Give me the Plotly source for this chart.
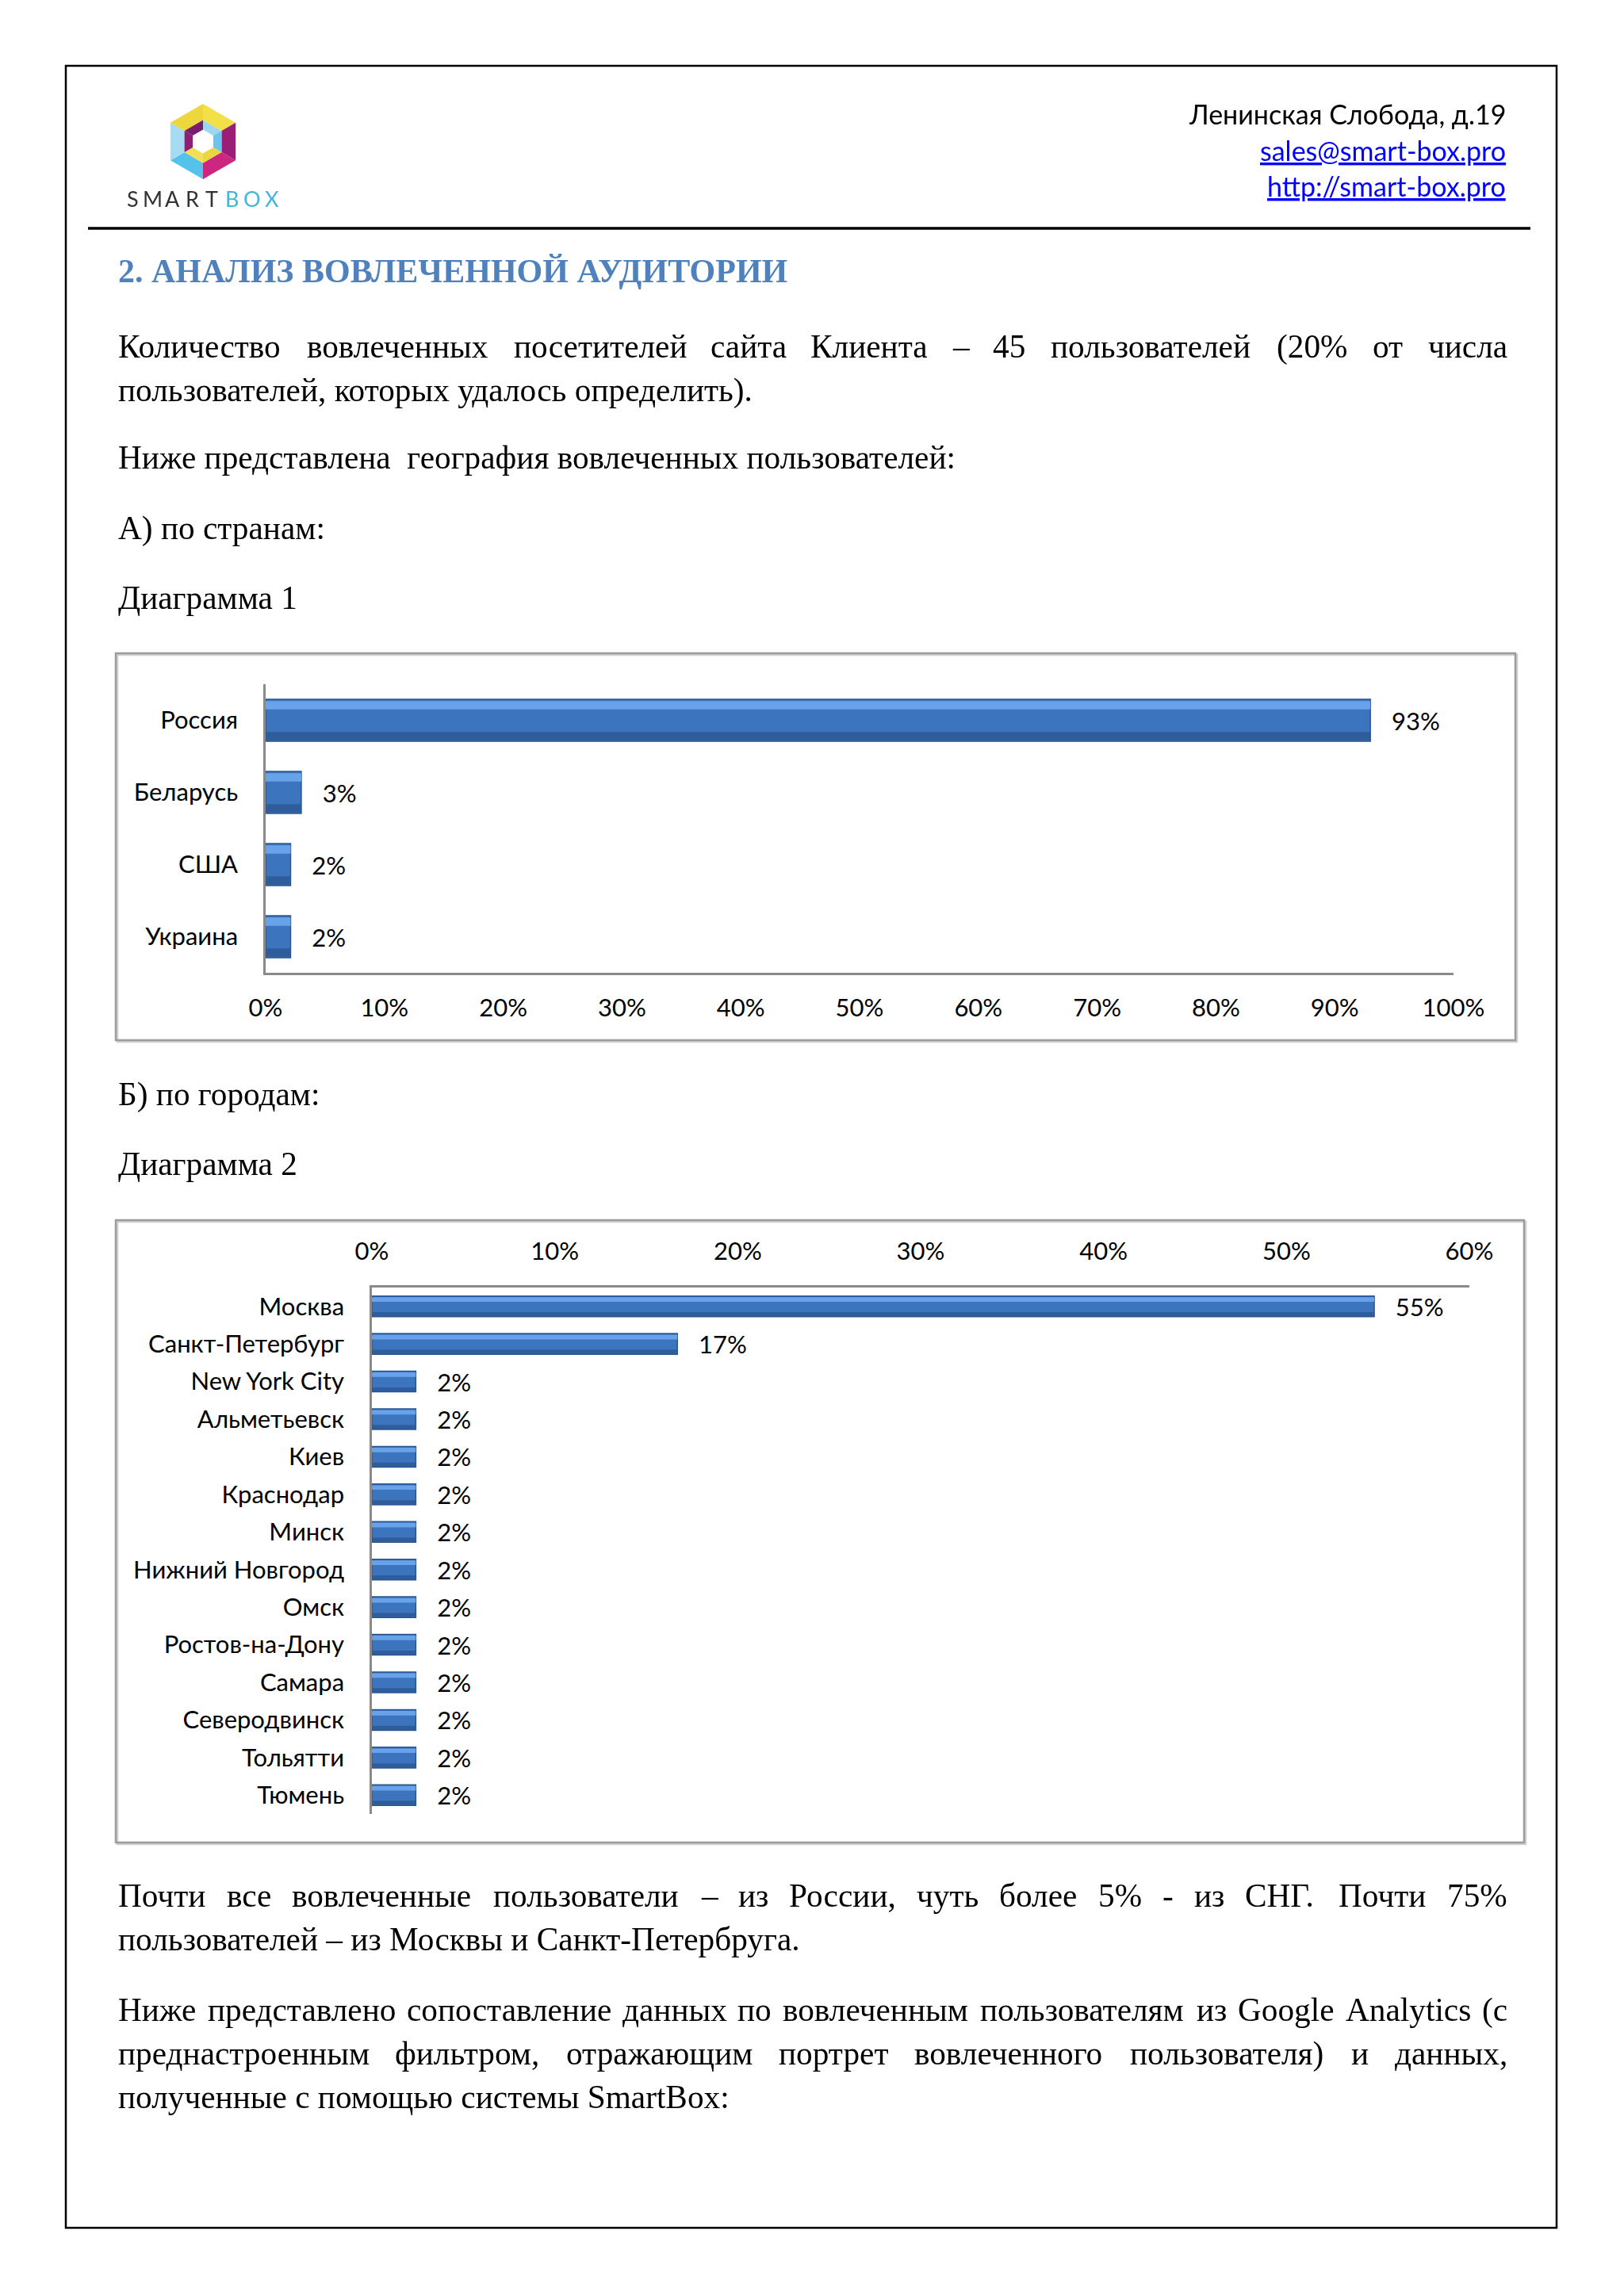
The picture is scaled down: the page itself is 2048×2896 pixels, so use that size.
import glob
import math
import struct

import plotly.graph_objects as go

W, H = 2048, 2896

# ---------------- data ----------------
countries = ["Россия", "Беларусь", "США", "Украина"]
country_share = [93.0, 3.0, 2.1, 2.1]
x1_ticks = [0, 10, 20, 30, 40, 50, 60, 70, 80, 90, 100]
x1_labels = ["0%", "10%", "20%", "30%", "40%", "50%", "60%", "70%", "80%", "90%", "100%"]

cities = ["Москва", "Санкт-Петербург", "New York City", "Альметьевск", "Киев", "Краснодар",
          "Минск", "Нижний Новгород", "Омск", "Ростов-на-Дону", "Самара", "Северодвинск",
          "Тольятти", "Тюмень"]
city_share = [54.8, 16.7, 2.4, 2.4, 2.4, 2.4, 2.4, 2.4, 2.4, 2.4, 2.4, 2.4, 2.4, 2.4]
x2_ticks = [0, 10, 20, 30, 40, 50, 60]
x2_labels = ["0%", "10%", "20%", "30%", "40%", "50%", "60%"]

# ---------------- helpers ----------------
OFF = 8  # page body margin of the html page


def px(x):
    return (x - OFF) / W


def py(y):
    return 1 - (y - OFF) / H


SERIF = "Liberation Serif, Times New Roman, serif"
SANS = "Lato, Carlito, Calibri, sans-serif"
BODY = 41.3
CH_FONT = 31
BAR = "#3D74BE"
BAR_LINE = "#2A5590"
BAR_HI = "#6EA8EC"
BAR_DK = "#2E5B97"
AXC = "#8A8A8A"
LEFT, RIGHT = 148, 1900

annotations = []
shapes = []


# ---- tiny TrueType width reader (used only to justify text lines) ----
def load_metrics():
    paths = (glob.glob("/usr/share/fonts/**/LiberationSerif-Regular.ttf", recursive=True)
             + glob.glob("/usr/**/LiberationSerif-Regular.ttf", recursive=True))
    if not paths:
        return None
    data = open(paths[0], "rb").read()
    u16 = lambda o: struct.unpack(">H", data[o:o + 2])[0]
    i16 = lambda o: struct.unpack(">h", data[o:o + 2])[0]
    ntab = u16(4)
    tables = {}
    for i in range(ntab):
        tag, _, off, ln = struct.unpack(">4sIII", data[12 + 16 * i:28 + 16 * i])
        tables[tag.decode("latin1")] = off
    upem = u16(tables["head"] + 18)
    nh = u16(tables["hhea"] + 34)
    hm = tables["hmtx"]
    adv = [u16(hm + 4 * i) for i in range(nh)]
    cm = tables["cmap"]
    sub = None
    for i in range(u16(cm + 2)):
        pid, eid, off = struct.unpack(">HHI", data[cm + 4 + 8 * i:cm + 12 + 8 * i])
        if u16(cm + off) == 4 and (pid == 3 or pid == 0):
            sub = cm + off
            break
    if sub is None:
        return None
    segx2 = u16(sub + 6)
    ends = sub + 14
    starts = ends + segx2 + 2
    deltas = starts + segx2
    ros = deltas + segx2

    def glyph(c):
        c = ord(c)
        for i in range(segx2 // 2):
            e = u16(ends + 2 * i)
            if c <= e:
                s = u16(starts + 2 * i)
                if c < s:
                    return 0
                d = i16(deltas + 2 * i)
                ro = u16(ros + 2 * i)
                if ro == 0:
                    return (c + d) & 0xFFFF
                g = u16(ros + 2 * i + ro + 2 * (c - s))
                return (g + d) & 0xFFFF if g else 0
        return 0

    def width(s, size):
        tot = 0
        for ch in s:
            g = glyph(ch)
            tot += adv[min(g, nh - 1)]
        return tot * size / upem

    return width


try:
    text_width = load_metrics()
except Exception:
    text_width = None


def txt(x, baseline, s, size=BODY, family=SERIF, color="black", anchor="left",
        bold=False, under=False, k=0.3375):
    font = dict(family=family, size=size, color=color)
    if bold:
        font["weight"] = "bold"
    if under:
        font["lineposition"] = "under"
    annotations.append(dict(
        x=px(x), y=py(baseline - k * size), xref="paper", yref="paper",
        text=s, showarrow=False, xanchor=anchor, yanchor="middle",
        font=font, borderpad=0))


def justified(baseline, line, fallback):
    ws = line.split(" ")
    if text_width is not None:
        widths = [text_width(w, BODY) for w in ws]
        gap = (RIGHT - LEFT - sum(widths)) / (len(ws) - 1)
        x = LEFT
        for w, wd in zip(ws, widths):
            txt(x, baseline, w)
            x += wd + gap
    else:
        for x, w in zip(fallback, ws):
            txt(x, baseline, w)


fig = go.Figure()


def add_bars(vals, cats, xa, ya, w, hi_off, hi_w, dk_w):
    fig.add_trace(go.Bar(
        x=vals, y=cats, orientation="h", xaxis=xa, yaxis=ya,
        width=w, offset=-w / 2,
        marker=dict(color=BAR, line=dict(color=BAR_LINE, width=1.5)),
        texttemplate="\u00a0\u00a0\u00a0%{x:.0f}%", textposition="outside",
        constraintext="none",
        textfont=dict(family=SANS, size=CH_FONT, color="black"),
        cliponaxis=False, hoverinfo="skip", showlegend=False))
    fig.add_trace(go.Bar(
        x=vals, y=cats, orientation="h", xaxis=xa, yaxis=ya,
        width=w * hi_w, offset=-w / 2 + w * hi_off,
        marker=dict(color=BAR_HI, line=dict(width=0)), opacity=0.9,
        hoverinfo="skip", showlegend=False))
    fig.add_trace(go.Bar(
        x=vals, y=cats, orientation="h", xaxis=xa, yaxis=ya,
        width=w * dk_w, offset=w / 2 - w * (dk_w + 0.02),
        marker=dict(color=BAR_DK, line=dict(width=0)), opacity=0.9,
        hoverinfo="skip", showlegend=False))


add_bars(country_share, countries, "x", "y", 0.58, 0.04, 0.2, 0.2)
add_bars(city_share, cities, "x2", "y2", 0.55, 0.06, 0.22, 0.2)

axis_common = dict(showgrid=False, zeroline=False, showline=True, linecolor=AXC,
                   linewidth=2.5, ticks="", automargin=False,
                   tickfont=dict(family=SANS, size=CH_FONT, color="black"),
                   fixedrange=True)

fig.update_layout(
    template="none",
    width=W, height=H, margin=dict(l=0, r=0, t=0, b=0, pad=0, autoexpand=False),
    autosize=False,
    paper_bgcolor="white", plot_bgcolor="rgba(0,0,0,0)",
    barmode="overlay", showlegend=False,
    xaxis=dict(domain=[px(335), px(1833)], range=[0, 100], tickvals=x1_ticks,
               ticktext=x1_labels, anchor="y", side="bottom", ticklabelstandoff=15,
               **axis_common),
    yaxis=dict(domain=[py(1227), py(863)], autorange="reversed", type="category",
               anchor="x", ticklabelstandoff=26, **axis_common),
    xaxis2=dict(domain=[px(469), px(1853)], range=[0, 60], tickvals=x2_ticks,
                ticktext=x2_labels, anchor="y2", side="top", ticklabelstandoff=20,
                **axis_common),
    yaxis2=dict(domain=[py(2288), py(1624)], autorange="reversed", type="category",
                anchor="x2", ticklabelstandoff=26, **axis_common),
)

# ---------------- page frame & rules ----------------
shapes.append(dict(type="rect", xref="paper", yref="paper", x0=px(83), x1=px(1963),
                   y0=py(2810), y1=py(83), line=dict(color="black", width=2.5)))
shapes.append(dict(type="line", xref="paper", yref="paper", x0=px(111), x1=px(1930),
                   y0=py(288), y1=py(288), line=dict(color="black", width=3.5)))
# chart boxes
for (x0, y0, x1, y1) in [(146, 824, 1911, 1312), (146, 1539, 1922, 2324)]:
    shapes.append(dict(type="rect", xref="paper", yref="paper", x0=px(x0 + 2), x1=px(x1 + 2),
                       y0=py(y1 + 2), y1=py(y0 + 2), line=dict(color="#D0D0D0", width=2.5)))
    shapes.append(dict(type="rect", xref="paper", yref="paper", x0=px(x0), x1=px(x1),
                       y0=py(y1), y1=py(y0), line=dict(color="#9C9C9C", width=2.5),
                       fillcolor="rgba(0,0,0,0)"))

# ---------------- logo ----------------
cx, cy = 256, 178.5


def hexpt(r, k):
    a = math.radians(-90 + 60 * k)
    return (cx + r * math.cos(a), cy + r * math.sin(a))


def ring(r_out, r_in, colors):
    for k in range(6):
        p = [hexpt(r_out, k), hexpt(r_out, k + 1), hexpt(r_in, k + 1), hexpt(r_in, k)]
        path = "M " + " L ".join(f"{px(a):.5f},{py(b):.5f}" for a, b in p) + " Z"
        shapes.append(dict(type="path", xref="paper", yref="paper", path=path,
                           fillcolor=colors[k], line=dict(width=0)))


ring(47.5, 27, ["#F3DF47", "#9A1E78", "#CC2681", "#55C2EC", "#A6DCF3", "#ECD73C"])
ring(27, 15, ["#9ED6F0", "#6CC3EB", "#E9D640", "#F2DF55", "#8E1F74", "#7A1E6C"])

logo_letters = ["S", "M", "A", "R", "T", "B", "O", "X"]
logo_colors = ["#333333"] * 5 + ["#3FB7D6"] * 3
for i, (ch, col) in enumerate(zip(logo_letters, logo_colors)):
    txt(167 + 25.1 * i, 261, ch, size=27, family=SANS, color=col, anchor="center", k=0.387)

# ---------------- header text ----------------
txt(1900, 157, "Ленинская Слобода, д.19", size=34, family=SANS, anchor="right", k=0.387)
txt(1900, 203, "sales@smart-box.pro", size=34, family=SANS, color="#0000FF", anchor="right",
    under=True, k=0.387)
txt(1900, 248, "http://smart-box.pro", size=34, family=SANS, color="#0000FF", anchor="right",
    under=True, k=0.387)

txt(148, 356, "2. АНАЛИЗ ВОВЛЕЧЕННОЙ АУДИТОРИИ", size=42, color="#4F81BD", bold=True)

# ---------------- body text ----------------
justified(451, "Количество вовлеченных посетителей сайта Клиента – 45 пользователей (20% от числа",
          [148, 386, 646, 893, 1020, 1199, 1255, 1325, 1611, 1731, 1801])
txt(148, 506, "пользователей, которых удалось определить).")
txt(148, 591, "Ниже представлена\u00a0 география вовлеченных пользователей:")
txt(148, 680, "А) по странам:")
txt(148, 768, "Диаграмма 1")
txt(148, 1394, "Б) по городам:")
txt(148, 1482, "Диаграмма 2")

justified(2405, "Почти все вовлеченные пользователи – из России, чуть более 5% - из СНГ. Почти 75%",
          [148, 290, 367, 627, 886, 928, 994, 1157, 1260, 1397, 1470, 1504, 1568, 1686, 1825])
txt(148, 2460, "пользователей – из Москвы и Санкт-Петербруга.")

justified(2549, "Ниже представлено сопоставление данных по вовлеченным пользователям из Google Analytics (с",
          [148, 240, 483, 751, 891, 943, 1183, 1452, 1506, 1631, 1821])
justified(2604, "преднастроенным фильтром, отражающим портрет вовлеченного пользователя) и данных,",
          [148, 496, 734, 980, 1151, 1419, 1701, 1756])
txt(148, 2659, "полученные с помощью системы SmartBox:")

fig.update_layout(annotations=annotations, shapes=shapes)
fig.write_html("out.html", config={"responsive": False})
